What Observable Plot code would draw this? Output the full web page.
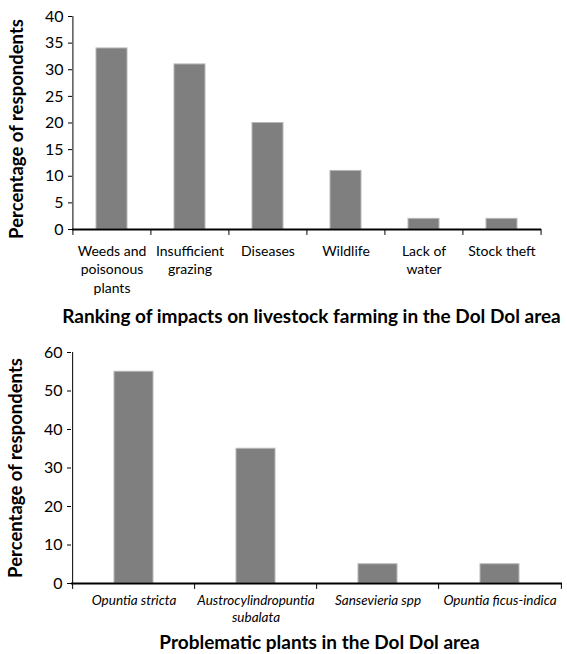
<!DOCTYPE html>
<html>
<head>
<meta charset="utf-8">
<script src="https://cdn.jsdelivr.net/npm/d3@7"></script>
<script src="https://cdn.jsdelivr.net/npm/@observablehq/plot@0.6"></script>
<style>
  html, body { margin: 0; background: #fff; overflow: hidden; }
  #wrap { position: relative; width: 567px; height: 654px; overflow: hidden; font-family: Lato, "Open Sans", sans-serif; }
  .title { position: absolute; width: 567px; text-align: center; font-weight: bold; font-size: 19px; color: #000; line-height: 22px; white-space: nowrap; }
  .chart { position: absolute; left: 0; }
</style>
</head>
<body>
<div id="wrap"></div>
<script>
// ---- Data: chart 1 ----
const impacts = ["Weeds and poisonous plants", "Insufficient grazing", "Diseases", "Wildlife", "Lack of water", "Stock theft"];
const impactLabels = ["Weeds and\npoisonous\nplants", "Insufficient\ngrazing", "Diseases", "Wildlife", "Lack of\nwater", "Stock theft"];
const impactValues = [34, 31, 20, 11, 2, 2];
const impactTicks = [0, 5, 10, 15, 20, 25, 30, 35, 40];

// ---- Data: chart 2 ----
const plants = ["Opuntia stricta", "Austrocylindropuntia subalata", "Sansevieria spp", "Opuntia ficus-indica"];
const plantLabels = ["Opuntia stricta", "Austrocylindropuntia\nsubalata", "Sansevieria spp", "Opuntia ficus-indica"];
const plantValues = [55, 35, 5, 5];
const plantTicks = [0, 10, 20, 30, 40, 50, 60];

const yLabel = "Percentage of respondents";
const title1 = "Ranking of impacts on livestock farming in the Dol Dol area";
const title2 = "Problematic plants in the Dol Dol area";

const lineShape = { draw(context, l) { context.moveTo(0, 0); context.lineTo(0, -l); } };

function barChart({cats, labels, values, ticks, width, height, mt, mb, ml, mr, pad, italic, labelSize, labelLH, labelDy, yDy}) {
  const data = cats.map((c, i) => ({cat: c, value: values[i]}));
  const step = (width - ml - mr) / cats.length;
  const labelOf = new Map(cats.map((c, i) => [c, labels[i]]));
  const last = cats[cats.length - 1];
  const top = ticks[ticks.length - 1];
  return Plot.plot({
    width, height,
    marginTop: mt, marginBottom: mb, marginLeft: ml, marginRight: mr,
    style: {fontFamily: "Lato, 'Open Sans', sans-serif", color: "#000", background: "#fff", overflow: "visible"},
    x: {domain: cats, paddingInner: pad, paddingOuter: pad / 2, axis: null},
    y: {domain: [0, top], axis: null},
    marks: [
      Plot.barY(data, {x: "cat", y: "value", fill: "#7f7f7f", stroke: "#b8b8b8", strokeWidth: 1}),
      // y axis line
      Plot.ruleX([cats[0]], {x: d => d, dx: -step / 2, y1: 0, y2: top, stroke: "#000", strokeWidth: 1}),
      // y ticks and labels
      Plot.axisY({ticks, tickSize: 4, tickPadding: 5, fontSize: 16, label: null, stroke: "#000"}),
      // baseline
      Plot.ruleY([0], {stroke: "#000", strokeWidth: 2}),
      // category boundary ticks
      Plot.vector(cats, {x: d => d, y: 0, dx: -step / 2, length: 5, rotate: 180, anchor: "start", shape: lineShape, stroke: "#000", strokeWidth: 1}),
      Plot.vector([last], {x: d => d, y: 0, dx: step / 2, length: 5, rotate: 180, anchor: "start", shape: lineShape, stroke: "#000", strokeWidth: 1}),
      // category labels
      Plot.text(cats, {x: d => d, y: 0, text: d => labelOf.get(d), lineAnchor: "top", dy: labelDy, fontSize: labelSize, lineHeight: labelLH, fontStyle: italic ? "italic" : "normal", fill: "#000"}),
      // y label
      Plot.text([yLabel], {frameAnchor: "left", textAnchor: "middle", dx: -55, dy: yDy, rotate: -90, fontSize: 18.5, fontWeight: "bold", fill: "#000"})
    ]
  });
}

const wrap = document.getElementById("wrap");

const c1 = barChart({cats: impacts, labels: impactLabels, values: impactValues, ticks: impactTicks,
  width: 567, height: 300, mt: 16, mb: 71, ml: 72, mr: 26, pad: 0.6, italic: false,
  labelSize: 14, labelLH: 1.32, labelDy: 13, yDy: 6});
c1.classList.add("chart"); c1.style.top = "0px";
wrap.appendChild(c1);

const t1 = document.createElement("div");
t1.className = "title"; t1.textContent = title1; t1.style.top = "305px"; t1.style.left = "28px";
wrap.appendChild(t1);

const c2 = barChart({cats: plants, labels: plantLabels, values: plantValues, ticks: plantTicks,
  width: 567, height: 300, mt: 22, mb: 47, ml: 71, mr: 5, pad: 0.68, italic: true,
  labelSize: 13.5, labelLH: 1.26, labelDy: 9, yDy: 0});
c2.classList.add("chart"); c2.style.top = "330px";
wrap.appendChild(c2);

const t2 = document.createElement("div");
t2.className = "title"; t2.textContent = title2; t2.style.top = "631px"; t2.style.left = "36px";
wrap.appendChild(t2);
</script>
</body>
</html>
